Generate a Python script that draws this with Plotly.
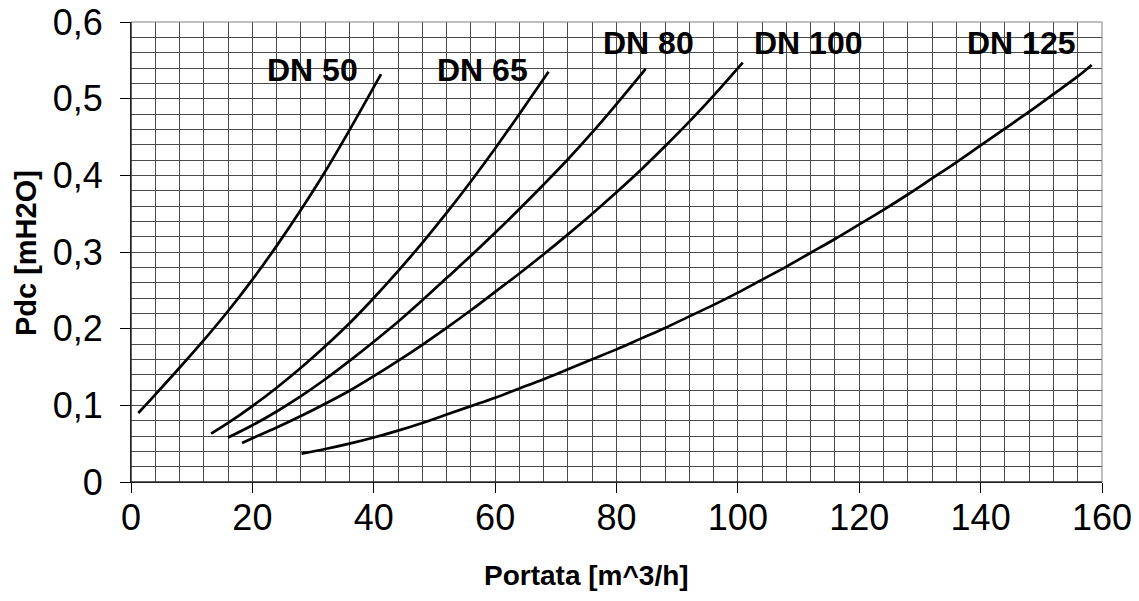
import plotly.graph_objects as go

# ---- data ----
dn50_x = [1.2, 4, 8, 12, 16, 20, 24, 28, 32, 36, 41.2]
dn50_y = [0.090, 0.114, 0.149, 0.185, 0.223, 0.264, 0.308, 0.355, 0.405, 0.459, 0.532]

dn65_x = [13.2, 16, 20, 24, 28, 32, 36, 40, 44, 48, 52, 56, 60, 64, 68.8]
dn65_y = [0.063, 0.077, 0.099, 0.123, 0.149, 0.177, 0.207, 0.240, 0.275, 0.312, 0.351, 0.392, 0.435, 0.480, 0.535]

dn80_x = [16, 20, 24, 28, 32, 36, 40, 44, 48, 52, 56, 60, 64, 68, 72, 76, 80, 84.8]
dn80_y = [0.058, 0.074, 0.092, 0.112, 0.134, 0.158, 0.183, 0.209, 0.237, 0.266, 0.295, 0.325, 0.356, 0.388, 0.421, 0.456, 0.493, 0.539]

dn100_x = [18.3, 20, 24, 28, 32, 36, 40, 44, 48, 52, 56, 60, 64, 68, 72, 76, 80, 84, 88, 92, 96, 100.8]
dn100_y = [0.051, 0.057, 0.071, 0.086, 0.102, 0.119, 0.138, 0.158, 0.179, 0.201, 0.224, 0.248, 0.272, 0.297, 0.323, 0.350, 0.378, 0.407, 0.438, 0.470, 0.504, 0.547]

dn125_x = [28.1, 32, 36, 40, 44, 48, 52, 56, 60, 64, 68, 72, 76, 80, 84, 88, 92, 96, 100,
           104, 108, 112, 116, 120, 124, 128, 132, 136, 140, 144, 148, 152, 156, 158.3]
dn125_y = [0.037, 0.043, 0.050, 0.058, 0.067, 0.077, 0.088, 0.099, 0.110, 0.122, 0.134, 0.147, 0.160, 0.173, 0.187, 0.201, 0.216, 0.231, 0.247,
           0.264, 0.281, 0.299, 0.317, 0.336, 0.355, 0.375, 0.396, 0.417, 0.439, 0.461, 0.483, 0.506, 0.529, 0.544]

series = [
    ("DN 50", dn50_x, dn50_y),
    ("DN 65", dn65_x, dn65_y),
    ("DN 80", dn80_x, dn80_y),
    ("DN 100", dn100_x, dn100_y),
    ("DN 125", dn125_x, dn125_y),
]

label_text = ["DN 50", "DN 65", "DN 80", "DN 100", "DN 125"]
label_x = [29.9, 58.0, 85.2, 111.6, 146.8]
label_y = [0.538, 0.538, 0.572, 0.572, 0.572]

x_ticks = [0, 20, 40, 60, 80, 100, 120, 140, 160]
y_ticks = [0, 0.1, 0.2, 0.3, 0.4, 0.5, 0.6]
y_ticktext = ["0", "0,1", "0,2", "0,3", "0,4", "0,5", "0,6"]

x_title = "Portata [m^3/h]"
y_title = "Pdc [mH2O]"

FONT = "Liberation Sans, Arial, sans-serif"
GRID = "#4a4a4a"

fig = go.Figure()
for name, xs, ys in series:
    fig.add_trace(go.Scatter(
        x=xs, y=ys, mode="lines", name=name,
        line=dict(color="black", width=2.7, shape="spline", smoothing=1.0),
        showlegend=False, hoverinfo="skip",
    ))

for t, lx, ly in zip(label_text, label_x, label_y):
    fig.add_annotation(x=lx, y=ly, xref="x", yref="y", text="<b>%s</b>" % t,
                       showarrow=False, font=dict(family=FONT, size=32, color="black"),
                       xanchor="center", yanchor="middle")

# axis titles as annotations for exact placement
fig.add_annotation(x=0.4687, y=-0.203, xref="paper", yref="paper",
                   text="<b>%s</b>" % x_title, showarrow=False,
                   font=dict(family=FONT, size=28, color="black"),
                   xanchor="center", yanchor="middle")
fig.add_annotation(x=-0.1082, y=0.4975, xref="paper", yref="paper",
                   text="<b>%s</b>" % y_title, showarrow=False, textangle=-90,
                   font=dict(family=FONT, size=29, color="black"),
                   xanchor="center", yanchor="middle")

fig.update_layout(
    width=1139, height=601,
    margin=dict(l=131, r=37, t=22, b=119, pad=0),
    paper_bgcolor="white", plot_bgcolor="white",
    font=dict(family=FONT, color="black"),
    showlegend=False,
)

fig.update_xaxes(
    range=[0, 160], tickvals=x_ticks, ticktext=[str(v) for v in x_ticks],
    automargin=False, ticklabeloverflow="allow",
    showline=True, linecolor="black", linewidth=1,
    ticks="outside", ticklen=10, tickcolor="black", tickwidth=1,
    tickfont=dict(family=FONT, size=36), ticklabelstandoff=-6,
    showgrid=True, gridcolor=GRID, gridwidth=1,
    minor=dict(dtick=4, tick0=0, showgrid=True, gridcolor=GRID, gridwidth=1, ticks=""),
    zeroline=False,
)
fig.update_yaxes(
    range=[0, 0.6], tickvals=y_ticks, ticktext=y_ticktext,
    automargin=False, ticklabeloverflow="allow",
    showline=True, linecolor="black", linewidth=1,
    ticks="outside", ticklen=10, tickcolor="black", tickwidth=1,
    tickfont=dict(family=FONT, size=36), ticklabelstandoff=10,
    showgrid=True, gridcolor=GRID, gridwidth=1,
    minor=dict(dtick=0.02, tick0=0, showgrid=True, gridcolor=GRID, gridwidth=1, ticks=""),
    zeroline=False,
)

fig.add_shape(type="rect", xref="paper", yref="paper", x0=0, y0=0, x1=1, y1=1,
              line=dict(color="#808080", width=1), layer="above")
fig.add_shape(type="line", xref="paper", yref="paper", x0=0, y0=0, x1=0, y1=1,
              line=dict(color="black", width=1), layer="above")
fig.add_shape(type="line", xref="paper", yref="paper", x0=0, y0=0, x1=1, y1=0,
              line=dict(color="black", width=1), layer="above")

fig.write_html(
    "out.html",
    config={"displayModeBar": False, "staticPlot": True},
    post_script="document.body.style.margin='0px';document.body.style.overflow='hidden';",
)
